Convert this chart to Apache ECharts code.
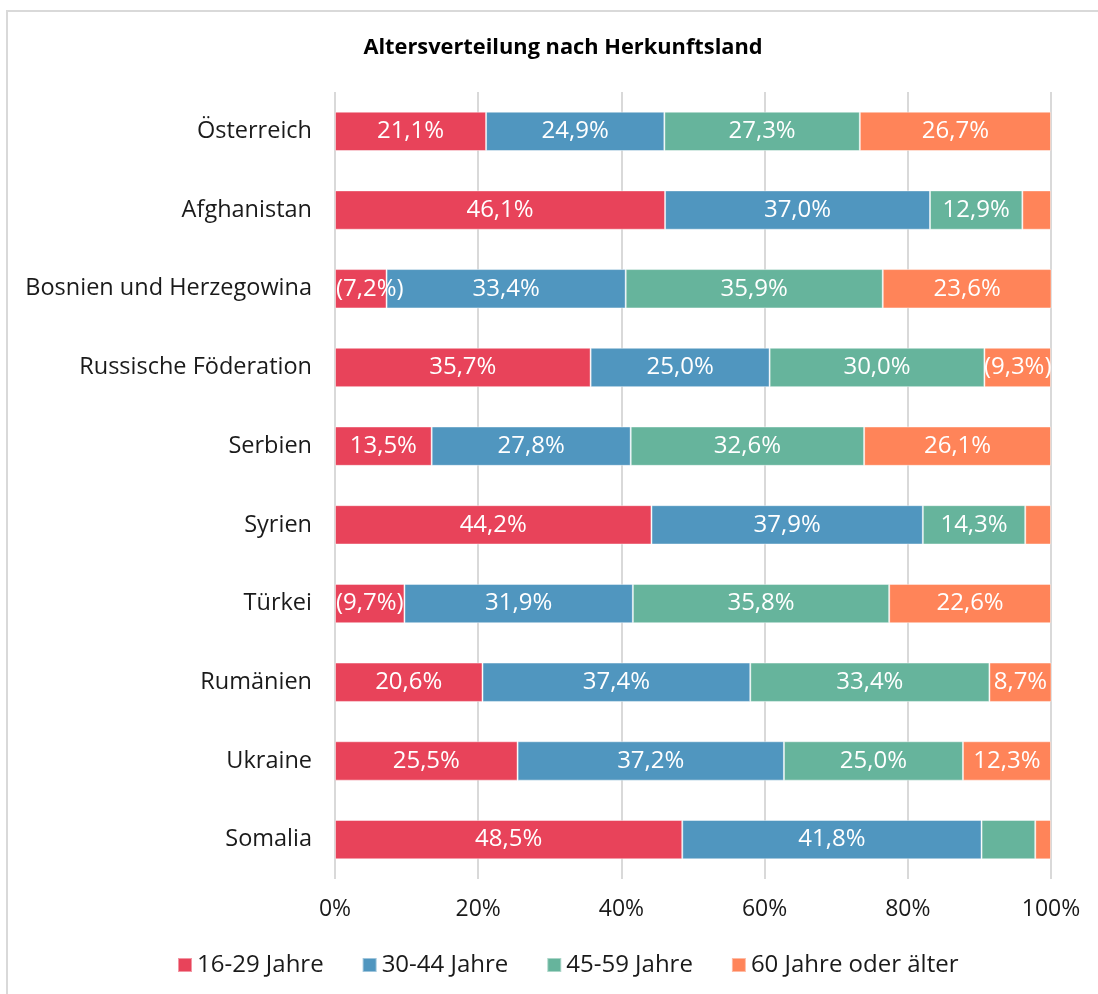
<!DOCTYPE html>
<html>
<head>
<meta charset="utf-8">
<script src="https://cdn.jsdelivr.net/npm/echarts@6/dist/echarts.min.js"></script>
<style>
html,body{margin:0;padding:0;background:#fff;}
#chart{width:1098px;height:994px;}
</style>
</head>
<body>
<div id="chart"></div>
<script>
const categories = ['Österreich','Afghanistan','Bosnien und Herzegowina','Russische Föderation','Serbien','Syrien','Türkei','Rumänien','Ukraine','Somalia'];
const seriesNames = ['16-29 Jahre','30-44 Jahre','45-59 Jahre','60 Jahre oder älter'];
const age1629 = [21.1, 46.1, 7.2, 35.7, 13.5, 44.2, 9.7, 20.6, 25.5, 48.5];
const age3044 = [24.9, 37.0, 33.4, 25.0, 27.8, 37.9, 31.9, 37.4, 37.2, 41.8];
const age4559 = [27.3, 12.9, 35.9, 30.0, 32.6, 14.3, 35.8, 33.4, 25.0, 7.5];
const age60plus = [26.7, 4.0, 23.6, 9.3, 26.1, 3.6, 22.6, 8.7, 12.3, 2.2];
// labels shown in parentheses: [seriesIndex, categoryIndex]
const parenthesized = [[0,2],[3,3],[0,6]];
const hiddenLabels = [[3,1],[3,5],[2,9],[3,9]];
const xTicks = [0,20,40,60,80,100];

const colors = ['#E8435A','#5096BF','#66B49C','#FF8459'];
const FONT = 'Open Sans';
const allData = [age1629, age3044, age4559, age60plus];

function labelText(si, idx, v){
  if (hiddenLabels.some(h=>h[0]===si && h[1]===idx)) return '';
  const t = v.toFixed(1).replace('.',',')+'%';
  return parenthesized.some(h=>h[0]===si && h[1]===idx) ? '('+t+')' : t;
}

const chart = echarts.init(document.getElementById('chart'), null, {renderer:'canvas'});
const option = {
  animation:false,
  backgroundColor:'#fff',
  textStyle:{fontFamily:FONT},
  title:{
    text:'Altersverteilung nach Herkunftsland', left:558, top:32, textAlign:'center',
    textStyle:{fontSize:21.8, fontWeight:'bold', color:'#000', fontFamily:FONT}
  },
  graphic:[{
    type:'rect', silent:true, z:-10,
    shape:{x:7, y:11, width:1200, height:1100},
    style:{fill:'none', stroke:'#D9D9D9', lineWidth:2}
  }],
  grid:{left:335, right:47, top:92, height:787, containLabel:false},
  legend:{
    top:948, left:172,
    itemWidth:14, itemHeight:14, itemGap:38,
    icon:'rect',
    textStyle:{fontSize:24, color:'#1a1a1a', fontFamily:FONT},
    data:seriesNames
  },
  xAxis:{
    type:'value', min:0, max:100, interval:20,
    axisLabel:{formatter:v=>v+'%', fontSize:23, color:'#1a1a1a', margin:19, fontFamily:FONT},
    splitLine:{lineStyle:{color:'#D9D9D9', width:2}},
    axisLine:{show:false}, axisTick:{show:false}
  },
  yAxis:{
    type:'category', inverse:true, data:categories,
    axisLine:{show:false}, axisTick:{show:false},
    axisLabel:{fontSize:23.5, color:'#1a1a1a', margin:23, fontFamily:FONT}
  },
  series: allData.map((d,si)=>({
    name:seriesNames[si], type:'bar', stack:'total', barCategoryGap:'50%',
    data:d.map(v=> (si===0 && v<10) ? {value:v, label:{position:'insideLeft', distance:1}} : v),
    itemStyle:{color:colors[si], borderColor:'rgba(255,255,255,0.45)', borderWidth:1},
    label:{
      show:true, position:'inside', color:'#fff', fontSize:24, fontFamily:FONT,
      formatter:p=>labelText(si, p.dataIndex, p.value)
    },
    labelLayout:{hideOverlap:false}
  }))
};
chart.setOption(option);
</script>
</body>
</html>
